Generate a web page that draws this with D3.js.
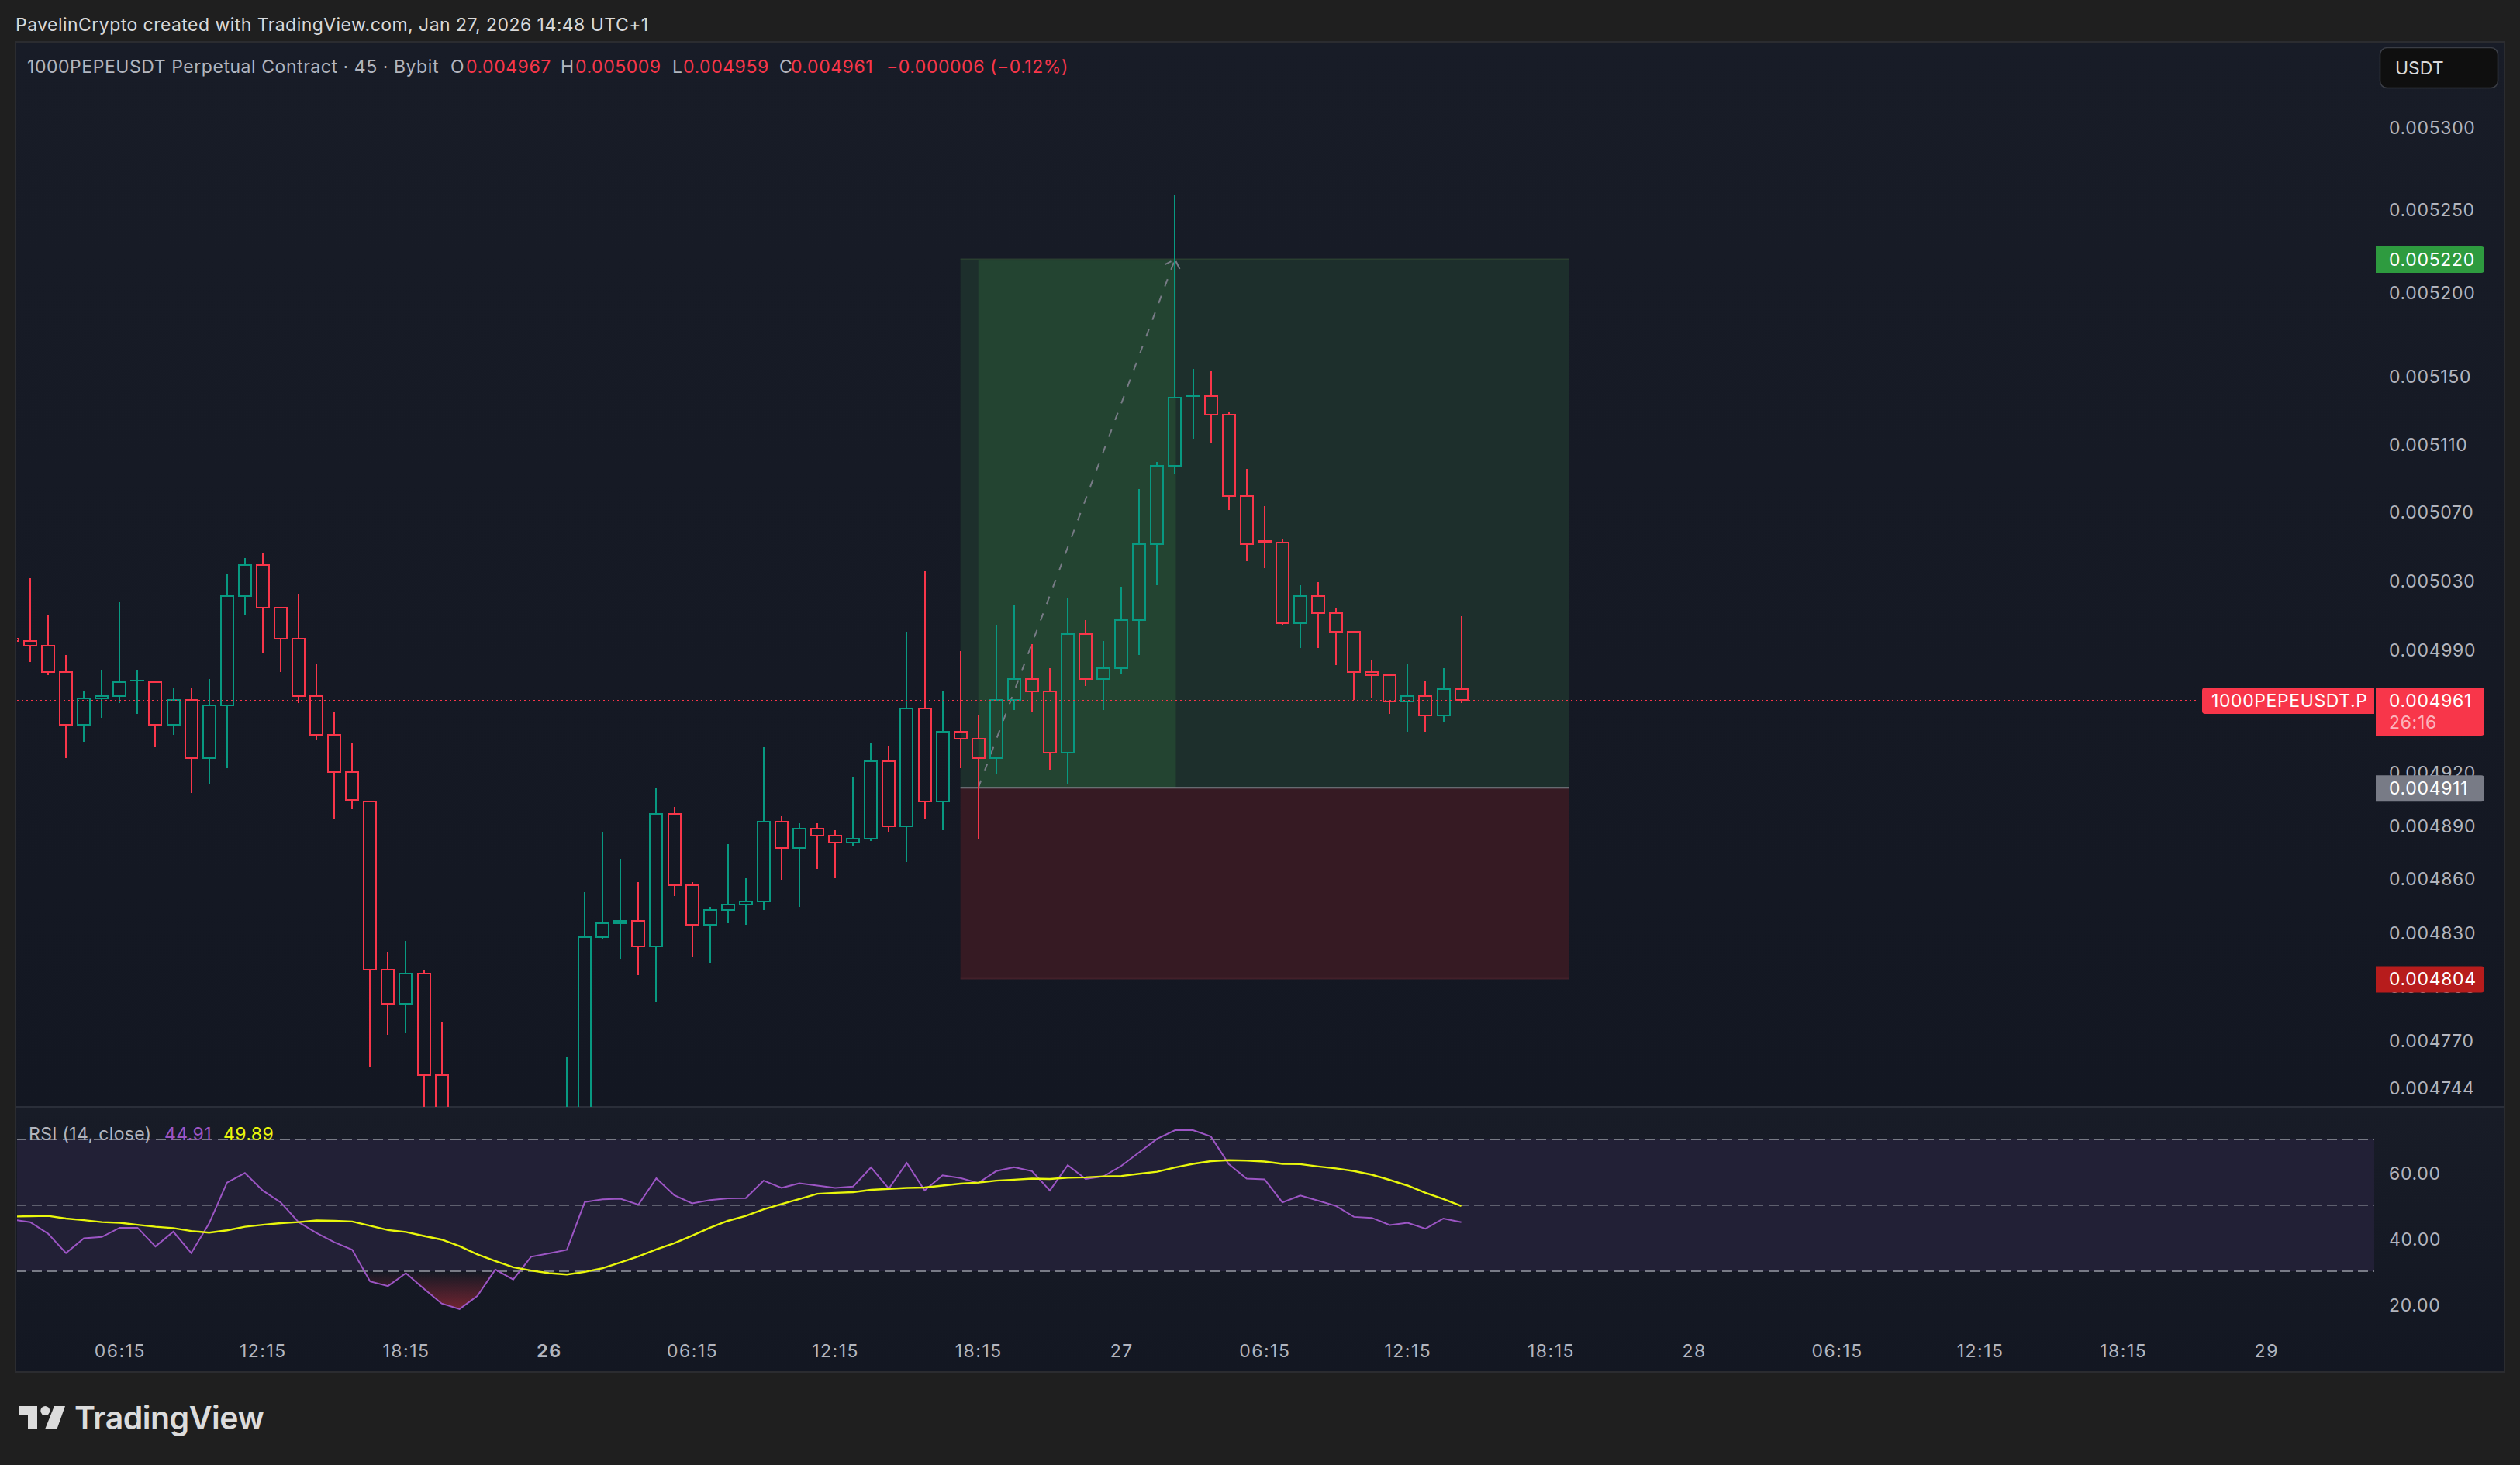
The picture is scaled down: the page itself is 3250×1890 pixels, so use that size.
<!DOCTYPE html>
<html>
<head>
<meta charset="utf-8">
<title>1000PEPEUSDT</title>
<script src="https://cdn.jsdelivr.net/npm/d3@7"></script>
<style>
	html, body { margin: 0; padding: 0; background: #1f1f1f; }
	svg { display: block; }
	text { font-family: Inter, "Noto Sans", sans-serif; }
</style>
</head>
<body>
<div class="chart"></div>
<script>
// prices are in millionths of USDT, first bar is index -1 (cut off by the left edge)
const firstBar = -1;
const opens = [4996,4995,4992,4977,4947,4962,4963,4972,4971,4947,4961,4928,4958,5021,5039,5014,4996,4963,4941,4920,4903,4809,4790,4807,4751,4715,4700,4720,4731,4716,4724,4726,4731,4827,4835,4836,4822,4896,4856,4834,4842,4845,4847,4892,4877,4888,4884,4880,4882,4926,4889,4956,4903,4943,4939,4928,4961,4973,4966,4931,4999,4973,4979,5007,5051,5097,5138,5138,5127,5079,5053,5052,5005,5021,5011,5000,4977,4975,4960,4963,4952,4967];
const highs = [4996,5031,5010,4987,4966,4978,5017,4978,4971,4968,4968,4973,5034,5043,5046,5014,5022,4982,4954,4936,4903,4819,4825,4809,4780,4725,4728,4731,4730,4730,4732,4761,4852,4886,4871,4858,4911,4900,4858,4844,4879,4860,4934,4895,4891,4891,4887,4917,4936,4935,5000,5035,4966,4989,4952,5004,5016,4993,4979,5020,5007,4995,5026,5083,5099,5259,5154,5153,5129,5095,5073,5054,5027,5029,5014,5000,4984,4975,4982,4972,4979,5009];
const lows = [4995,4983,4975,4928,4937,4951,4959,4953,4934,4941,4908,4913,4922,5010,4988,4977,4959,4938,4893,4899,4755,4773,4774,4720,4700,4690,4695,4712,4700,4710,4715,4700,4700,4826,4815,4806,4791,4850,4816,4813,4835,4834,4842,4859,4844,4865,4860,4878,4881,4886,4869,4893,4887,4922,4882,4919,4955,4954,4921,4913,4969,4955,4976,4987,5027,5092,5113,5110,5071,5041,5037,5004,4991,4991,4981,4961,4962,4953,4943,4943,4948,4959];
const closes = [4995,4992,4977,4947,4962,4963,4971,4972,4947,4961,4928,4958,5021,5039,5014,4996,4963,4941,4920,4904,4809,4790,4807,4751,4715,4700,4720,4731,4716,4724,4726,4731,4827,4835,4836,4822,4896,4856,4834,4842,4845,4847,4892,4877,4888,4884,4880,4882,4926,4889,4956,4903,4943,4939,4928,4961,4973,4966,4931,4999,4973,4979,5007,5051,5097,5137,5138,5127,5079,5051,5052,5005,5021,5011,5000,4977,4975,4960,4963,4952,4967,4961];

const rsiValues = [45.7,44.9,41.4,35.5,40.0,40.4,43.2,43.2,37.5,42.0,35.5,44.5,56.9,59.8,54.5,50.9,44.9,41.6,38.8,36.5,26.9,25.5,29.4,24.7,20.2,18.5,22.5,30.5,27.5,34.4,35.4,36.5,51.0,51.8,52.0,50.2,58.2,53.1,50.6,51.6,52.1,52.2,57.5,55.3,56.7,56.0,55.3,55.7,61.5,55.1,62.9,54.5,59.1,58.3,56.8,60.4,61.6,60.4,54.5,62.2,58.0,58.8,62.0,66.1,70.2,72.8,72.8,70.9,62.5,58.1,57.9,50.9,53.0,51.4,49.8,46.5,46.2,44.0,44.7,42.9,46.0,44.9];
const rsiMa = [46.6,46.7,46.8,46.0,45.5,44.9,44.7,44.1,43.5,43.1,42.2,41.7,42.4,43.5,44.1,44.6,44.9,45.4,45.3,45.1,43.8,42.5,41.9,40.7,39.6,37.6,35.1,33.1,31.2,30.2,29.4,29.0,29.8,30.9,32.7,34.5,36.6,38.5,40.8,43.2,45.3,46.8,48.8,50.4,51.9,53.5,53.8,54.0,54.7,55.0,55.3,55.4,56.0,56.6,56.9,57.5,57.8,58.1,58.0,58.4,58.5,58.8,58.9,59.6,60.2,61.5,62.6,63.4,63.7,63.6,63.3,62.6,62.5,61.8,61.2,60.4,59.3,57.7,56.0,53.8,51.9,49.8];

const priceTicks = [5300,5250,5200,5150,5110,5070,5030,4990,4920,4890,4860,4830,4800,4770,4744];
const rsiTicks = [60,40,20];
const rsiBands = [70,50,30];
const timeBars = [5,13,21,29,37,45,53,61,69,77,85,93,101,109,117,125];
const timeLabels = ['06:15','12:15','18:15','26','06:15','12:15','18:15','27','06:15','12:15','18:15','28','06:15','12:15','18:15','29'];
const boldTimes = ['26'];

const lastPrice = 4961;
const targetPrice = 5220;
const entryPrice = 4911;
const stopPrice = 4804;
const zoneBars = [52, 86];
const heldBars = [53, 64];

const bars = opens.map((o, i) => ({ i: i + firstBar, o: o, h: highs[i], l: lows[i], c: closes[i] }));

const red = '#f8364a';
const green = '#089981';
const labelGrey = '#b2b5be';
const fontSize = 23;
const axisSpacing = '0.66px';

const width = 3250;
const height = 1890;
const paneLeft = 21;
const paneRight = 3229;
const paneTop = 55;
const split = 1428;
const paneBottom = 1769;
const axisRightEdge = 3062;
const tagLeft = 3064;
const tagRight = 3204;
const axisTextX = 3081;

const x = d3.scaleLinear().domain([0, 80]).range([39, 39 + 80 * 23.07]);
const y = d3.scaleLog().domain([5300, 4744]).range([164, 1403]);
const rsiY = d3.scaleLinear().domain([70, 30]).range([1470, 1640]);

const svg = d3.select('.chart').append('svg')
	.attr('width', width)
	.attr('height', height);

const defs = svg.append('defs');

function addGradient(id, y1, y2, stops) {
	const g = defs.append('linearGradient')
		.attr('id', id)
		.attr('gradientUnits', 'userSpaceOnUse')
		.attr('x1', 0).attr('x2', 0)
		.attr('y1', y1).attr('y2', y2);
	stops.forEach(s => g.append('stop').attr('offset', s[0]).attr('stop-color', s[1]).attr('stop-opacity', s[2]));
}
addGradient('mainBg', paneTop, split, [[0, '#181c27', 1], [1, '#131722', 1]]);
addGradient('rsiBg', split, paneBottom, [[0, '#181c27', 1], [1, '#131722', 1]]);
addGradient('lowFill', rsiY(30), rsiY(15), [[0, '#f23645', 0], [1, '#f23645', 0.55]]);
addGradient('highFill', rsiY(85), rsiY(70), [[0, '#089981', 0.3], [1, '#089981', 0]]);

defs.append('clipPath').attr('id', 'mainClip').append('rect')
	.attr('x', paneLeft + 1).attr('y', paneTop).attr('width', paneRight - paneLeft).attr('height', split - paneTop);
defs.append('clipPath').attr('id', 'belowClip').append('rect')
	.attr('x', paneLeft).attr('y', rsiY(30)).attr('width', paneRight - paneLeft).attr('height', 200);
defs.append('clipPath').attr('id', 'aboveClip').append('rect')
	.attr('x', paneLeft).attr('y', rsiY(70) - 100).attr('width', paneRight - paneLeft).attr('height', 100);
defs.append('clipPath').attr('id', 'rsiClip').append('rect')
	.attr('x', paneLeft + 1).attr('y', split).attr('width', paneRight - paneLeft).attr('height', paneBottom - split);

// frame and pane backgrounds
svg.append('rect').attr('width', width).attr('height', height).attr('fill', '#1f1f1f');
svg.append('rect')
	.attr('x', paneLeft).attr('y', paneTop).attr('width', paneRight - paneLeft).attr('height', split - paneTop)
	.attr('fill', 'url(#mainBg)');
svg.append('rect')
	.attr('x', paneLeft).attr('y', split).attr('width', paneRight - paneLeft).attr('height', paneBottom - split)
	.attr('fill', 'url(#rsiBg)');
svg.append('rect')
	.attr('x', paneLeft - 1).attr('y', paneTop - 1).attr('width', paneRight - paneLeft + 2).attr('height', paneBottom - paneTop + 2)
	.attr('fill', 'none').attr('stroke', '#2b2c30').attr('stroke-width', 2);
svg.append('line')
	.attr('x1', paneLeft).attr('x2', paneRight).attr('y1', split).attr('y2', split)
	.attr('stroke', '#2a2e39').attr('stroke-width', 2);

// long position tool
const main = svg.append('g').attr('clip-path', 'url(#mainClip)');
main.append('rect')
	.attr('x', x(zoneBars[0])).attr('width', x(zoneBars[1]) - x(zoneBars[0]))
	.attr('y', y(targetPrice)).attr('height', y(entryPrice) - y(targetPrice))
	.attr('fill', '#1d2f2c');
main.append('rect')
	.attr('x', x(heldBars[0])).attr('width', x(heldBars[1]) - x(heldBars[0]) + 1)
	.attr('y', y(targetPrice) + 2).attr('height', y(entryPrice) - y(targetPrice) - 2)
	.attr('fill', '#234431');
main.append('line')
	.attr('x1', x(zoneBars[0])).attr('x2', x(zoneBars[1]))
	.attr('y1', y(targetPrice) + 0.5).attr('y2', y(targetPrice) + 0.5)
	.attr('stroke', '#2a3f30').attr('stroke-width', 2);
main.append('rect')
	.attr('x', x(zoneBars[0])).attr('width', x(zoneBars[1]) - x(zoneBars[0]))
	.attr('y', y(entryPrice)).attr('height', y(stopPrice) - y(entryPrice))
	.attr('fill', '#361a23');
main.append('line')
	.attr('x1', x(zoneBars[0])).attr('x2', x(zoneBars[1]))
	.attr('y1', y(stopPrice)).attr('y2', y(stopPrice))
	.attr('stroke', '#42202a').attr('stroke-width', 2);

// dashed path of the trade with its arrow head
main.append('path')
	.attr('d', d3.line()([[x(heldBars[0]), y(entryPrice)], [x(heldBars[1]), y(targetPrice)]]))
	.attr('fill', 'none').attr('stroke', '#787b86').attr('stroke-width', 2)
	.attr('stroke-dasharray', '10,13');
main.append('path')
	.attr('d', d3.line()([[x(heldBars[1]) - 13, y(targetPrice) + 7], [x(heldBars[1]) - 5, y(targetPrice) + 3]]))
	.attr('fill', 'none').attr('stroke', '#787b86').attr('stroke-width', 2);
main.append('path')
	.attr('d', d3.line()([[x(heldBars[1]) + 1, y(targetPrice) + 3], [x(heldBars[1]) + 6, y(targetPrice) + 13]]))
	.attr('fill', 'none').attr('stroke', '#787b86').attr('stroke-width', 2);
main.append('line')
	.attr('x1', x(zoneBars[0])).attr('x2', x(zoneBars[1]))
	.attr('y1', y(entryPrice)).attr('y2', y(entryPrice))
	.attr('stroke', '#7f8088').attr('stroke-width', 2);

// candles: hollow bodies, wicks stop at the body
const candle = main.append('g').attr('shape-rendering', 'crispEdges')
	.selectAll('g')
	.data(bars)
	.enter()
	.append('g')
	.attr('stroke', d => d.c >= d.o ? green : red)
	.attr('stroke-width', 2)
	.attr('fill', 'none');
candle.append('line')
	.attr('x1', d => x(d.i)).attr('x2', d => x(d.i))
	.attr('y1', d => y(d.h)).attr('y2', d => y(Math.max(d.o, d.c)));
candle.append('line')
	.attr('x1', d => x(d.i)).attr('x2', d => x(d.i))
	.attr('y1', d => y(Math.min(d.o, d.c))).attr('y2', d => y(d.l));
candle.append('rect')
	.attr('x', d => x(d.i) - 8)
	.attr('width', 16)
	.attr('y', d => y(Math.max(d.o, d.c)))
	.attr('height', d => Math.max(0.1, y(Math.min(d.o, d.c)) - y(Math.max(d.o, d.c))));

// last price line
svg.append('line')
	.attr('x1', paneLeft + 1).attr('x2', 2836)
	.attr('y1', Math.round(y(lastPrice)) + 1).attr('y2', Math.round(y(lastPrice)) + 1)
	.attr('stroke', red).attr('stroke-width', 2)
	.attr('stroke-dasharray', '2,4')
	.attr('shape-rendering', 'crispEdges');

// RSI pane
const rsi = svg.append('g').attr('clip-path', 'url(#rsiClip)');
rsi.append('rect')
	.attr('x', paneLeft).attr('width', axisRightEdge - paneLeft)
	.attr('y', rsiY(70)).attr('height', rsiY(30) - rsiY(70))
	.attr('fill', '#222036');
rsi.selectAll('.band')
	.data(rsiBands)
	.enter()
	.append('line')
	.attr('class', 'band')
	.attr('x1', paneLeft).attr('x2', axisRightEdge)
	.attr('y1', d => rsiY(d)).attr('y2', d => rsiY(d))
	.attr('stroke', '#787b86')
	.attr('stroke-opacity', d => d === 50 ? 0.7 : 1)
	.attr('stroke-width', 2)
	.attr('stroke-dasharray', '13,7');

const rsiX = (d, i) => x(i + firstBar);
rsi.append('path')
	.attr('clip-path', 'url(#belowClip)')
	.attr('d', d3.area().x(rsiX).y0(rsiY(30)).y1(d => rsiY(d))(rsiValues))
	.attr('fill', 'url(#lowFill)');
rsi.append('path')
	.attr('clip-path', 'url(#aboveClip)')
	.attr('d', d3.area().x(rsiX).y0(rsiY(70)).y1(d => rsiY(d))(rsiValues))
	.attr('fill', 'url(#highFill)');
rsi.append('path')
	.attr('d', d3.line().x(rsiX).y(d => rsiY(d))(rsiValues))
	.attr('fill', 'none').attr('stroke', '#9c55c4').attr('stroke-width', 2);
rsi.append('path')
	.attr('d', d3.line().x(rsiX).y(d => rsiY(d))(rsiMa))
	.attr('fill', 'none').attr('stroke', '#e9f70c').attr('stroke-width', 2.4);

// axes
function styleAxis(g, spacing) {
	g.select('.domain').remove();
	g.selectAll('line').remove();
	g.selectAll('text')
		.attr('fill', labelGrey)
		.style('font-family', 'Inter, sans-serif')
		.style('font-size', fontSize + 'px')
		.style('letter-spacing', spacing);
}

svg.append('g')
	.attr('transform', `translate(${axisTextX},0)`)
	.call(d3.axisRight(y).tickValues(priceTicks).tickSize(0).tickPadding(0).tickFormat(d => (d / 1e6).toFixed(6)))
	.call(g => styleAxis(g, axisSpacing))
	.call(g => g.selectAll('text').attr('dy', '0.39em'));

svg.append('g')
	.attr('transform', `translate(${axisTextX},0)`)
	.call(d3.axisRight(rsiY).tickValues(rsiTicks).tickSize(0).tickPadding(0).tickFormat(d => d.toFixed(2)))
	.call(g => styleAxis(g, axisSpacing))
	.call(g => g.selectAll('text').attr('dy', '0.39em'));

svg.append('g')
	.attr('transform', 'translate(0,1735)')
	.call(d3.axisBottom(x).tickValues(timeBars).tickSize(0).tickPadding(0).tickFormat((d, i) => timeLabels[i]))
	.call(g => styleAxis(g, '1.5px'))
	.call(g => g.selectAll('text')
		.style('font-weight', (d, i) => boldTimes.includes(timeLabels[i]) ? 700 : 400));

// price tags, square on the side that faces the other label
function tagPath(x0, x1, y0, y1, roundLeft) {
	const r = 4;
	const p = d3.path();
	if (roundLeft) {
		p.moveTo(x1, y0);
		p.lineTo(x0 + r, y0);
		p.arcTo(x0, y0, x0, y0 + r, r);
		p.lineTo(x0, y1 - r);
		p.arcTo(x0, y1, x0 + r, y1, r);
		p.lineTo(x1, y1);
	} else {
		p.moveTo(x0, y0);
		p.lineTo(x1 - r, y0);
		p.arcTo(x1, y0, x1, y0 + r, r);
		p.lineTo(x1, y1 - r);
		p.arcTo(x1, y1, x1 - r, y1, r);
		p.lineTo(x0, y1);
	}
	p.closePath();
	return p.toString();
}

const tags = [
	{ price: targetPrice, fill: '#2e9b3f' },
	{ price: entryPrice, fill: '#787b86' },
	{ price: stopPrice, fill: '#b71c1c' }
];
svg.selectAll('.tag')
	.data(tags)
	.enter()
	.append('path')
	.attr('class', 'tag')
	.attr('d', d => tagPath(tagLeft, tagRight, y(d.price) - 16, y(d.price) + 18, false))
	.attr('fill', d => d.fill);
svg.selectAll('.tagText')
	.data(tags)
	.enter()
	.append('text')
	.attr('class', 'tagText')
	.attr('x', axisTextX)
	.attr('y', d => y(d.price))
	.attr('dy', '0.39em')
	.attr('fill', '#ffffff')
	.style('font-size', fontSize + 'px')
	.style('letter-spacing', axisSpacing)
	.text(d => (d.price / 1e6).toFixed(6));

svg.append('path')
	.attr('d', tagPath(2840, axisRightEdge, y(lastPrice) - 16, y(lastPrice) + 18, true))
	.attr('fill', red);
svg.append('text')
	.attr('x', 2852).attr('y', y(lastPrice)).attr('dy', '0.39em')
	.attr('fill', '#ffffff')
	.style('font-size', fontSize + 'px')
	.style('letter-spacing', '0.6px')
	.text('1000PEPEUSDT.P');
svg.append('path')
	.attr('d', tagPath(tagLeft, tagRight, y(lastPrice) - 16, y(lastPrice) + 46, false))
	.attr('fill', red);
svg.append('text')
	.attr('x', axisTextX).attr('y', y(lastPrice)).attr('dy', '0.39em')
	.attr('fill', '#ffffff')
	.style('font-size', fontSize + 'px')
	.style('letter-spacing', axisSpacing)
	.text((lastPrice / 1e6).toFixed(6));
svg.append('text')
	.attr('x', axisTextX).attr('y', y(lastPrice) + 28).attr('dy', '0.39em')
	.attr('fill', '#ffffff').attr('fill-opacity', 0.65)
	.style('font-size', fontSize + 'px')
	.style('letter-spacing', axisSpacing)
	.text('26:16');

// currency button
svg.append('rect')
	.attr('x', 3069.5).attr('y', 61.5).attr('width', 152).attr('height', 52).attr('rx', 9)
	.attr('fill', '#0f0f0f').attr('stroke', '#3a3d45').attr('stroke-width', 1.5);
svg.append('text')
	.attr('x', 3089).attr('y', 96)
	.attr('fill', '#d9d9d9')
	.style('font-size', '23px')
	.text('USDT');

// texts above and inside the panes
function label(xPos, yPos, content, color, spacing) {
	svg.append('text')
		.attr('x', xPos).attr('y', yPos)
		.attr('fill', color)
		.style('font-size', fontSize + 'px')
		.style('letter-spacing', spacing + 'px')
		.text(content);
}

label(20, 40, 'PavelinCrypto created with TradingView.com, Jan 27, 2026 14:48 UTC+1', '#d9d9d9', 0.45);

const legendRows = [
	[35, '1000PEPEUSDT Perpetual Contract · 45 · Bybit', labelGrey],
	[581, 'O', labelGrey], [601, '0.004967', red],
	[723, 'H', labelGrey], [742, '0.005009', red],
	[867, 'L', labelGrey], [881, '0.004959', red],
	[1005, 'C', labelGrey], [1020, '0.004961', red],
	[1143, '−0.000006 (−0.12%)', red]
];
legendRows.forEach(r => label(r[0], 94, r[1], r[2], 0.55));

label(37, 1471, 'RSI (14, close)', labelGrey, 0.35);
label(212, 1471, '44.91', '#9c55c4', 0.4);
label(288, 1471, '49.89', '#e9f70c', 0.4);

// TradingView logo
const logo = svg.append('g').attr('fill', '#dcdcdc');
logo.append('path').attr('d', 'M24 1814H48V1844H36V1826H24Z');
logo.append('circle').attr('cx', 58.3).attr('cy', 1820).attr('r', 6);
logo.append('path').attr('d', 'M70 1814H84L73.3 1844H58Z');
svg.append('text')
	.attr('x', 96).attr('y', 1844)
	.attr('fill', '#dcdcdc')
	.style('font-size', '41px')
	.style('font-weight', 600)
	.style('letter-spacing', '-0.5px')
	.text('TradingView');
</script>
</body>
</html>
